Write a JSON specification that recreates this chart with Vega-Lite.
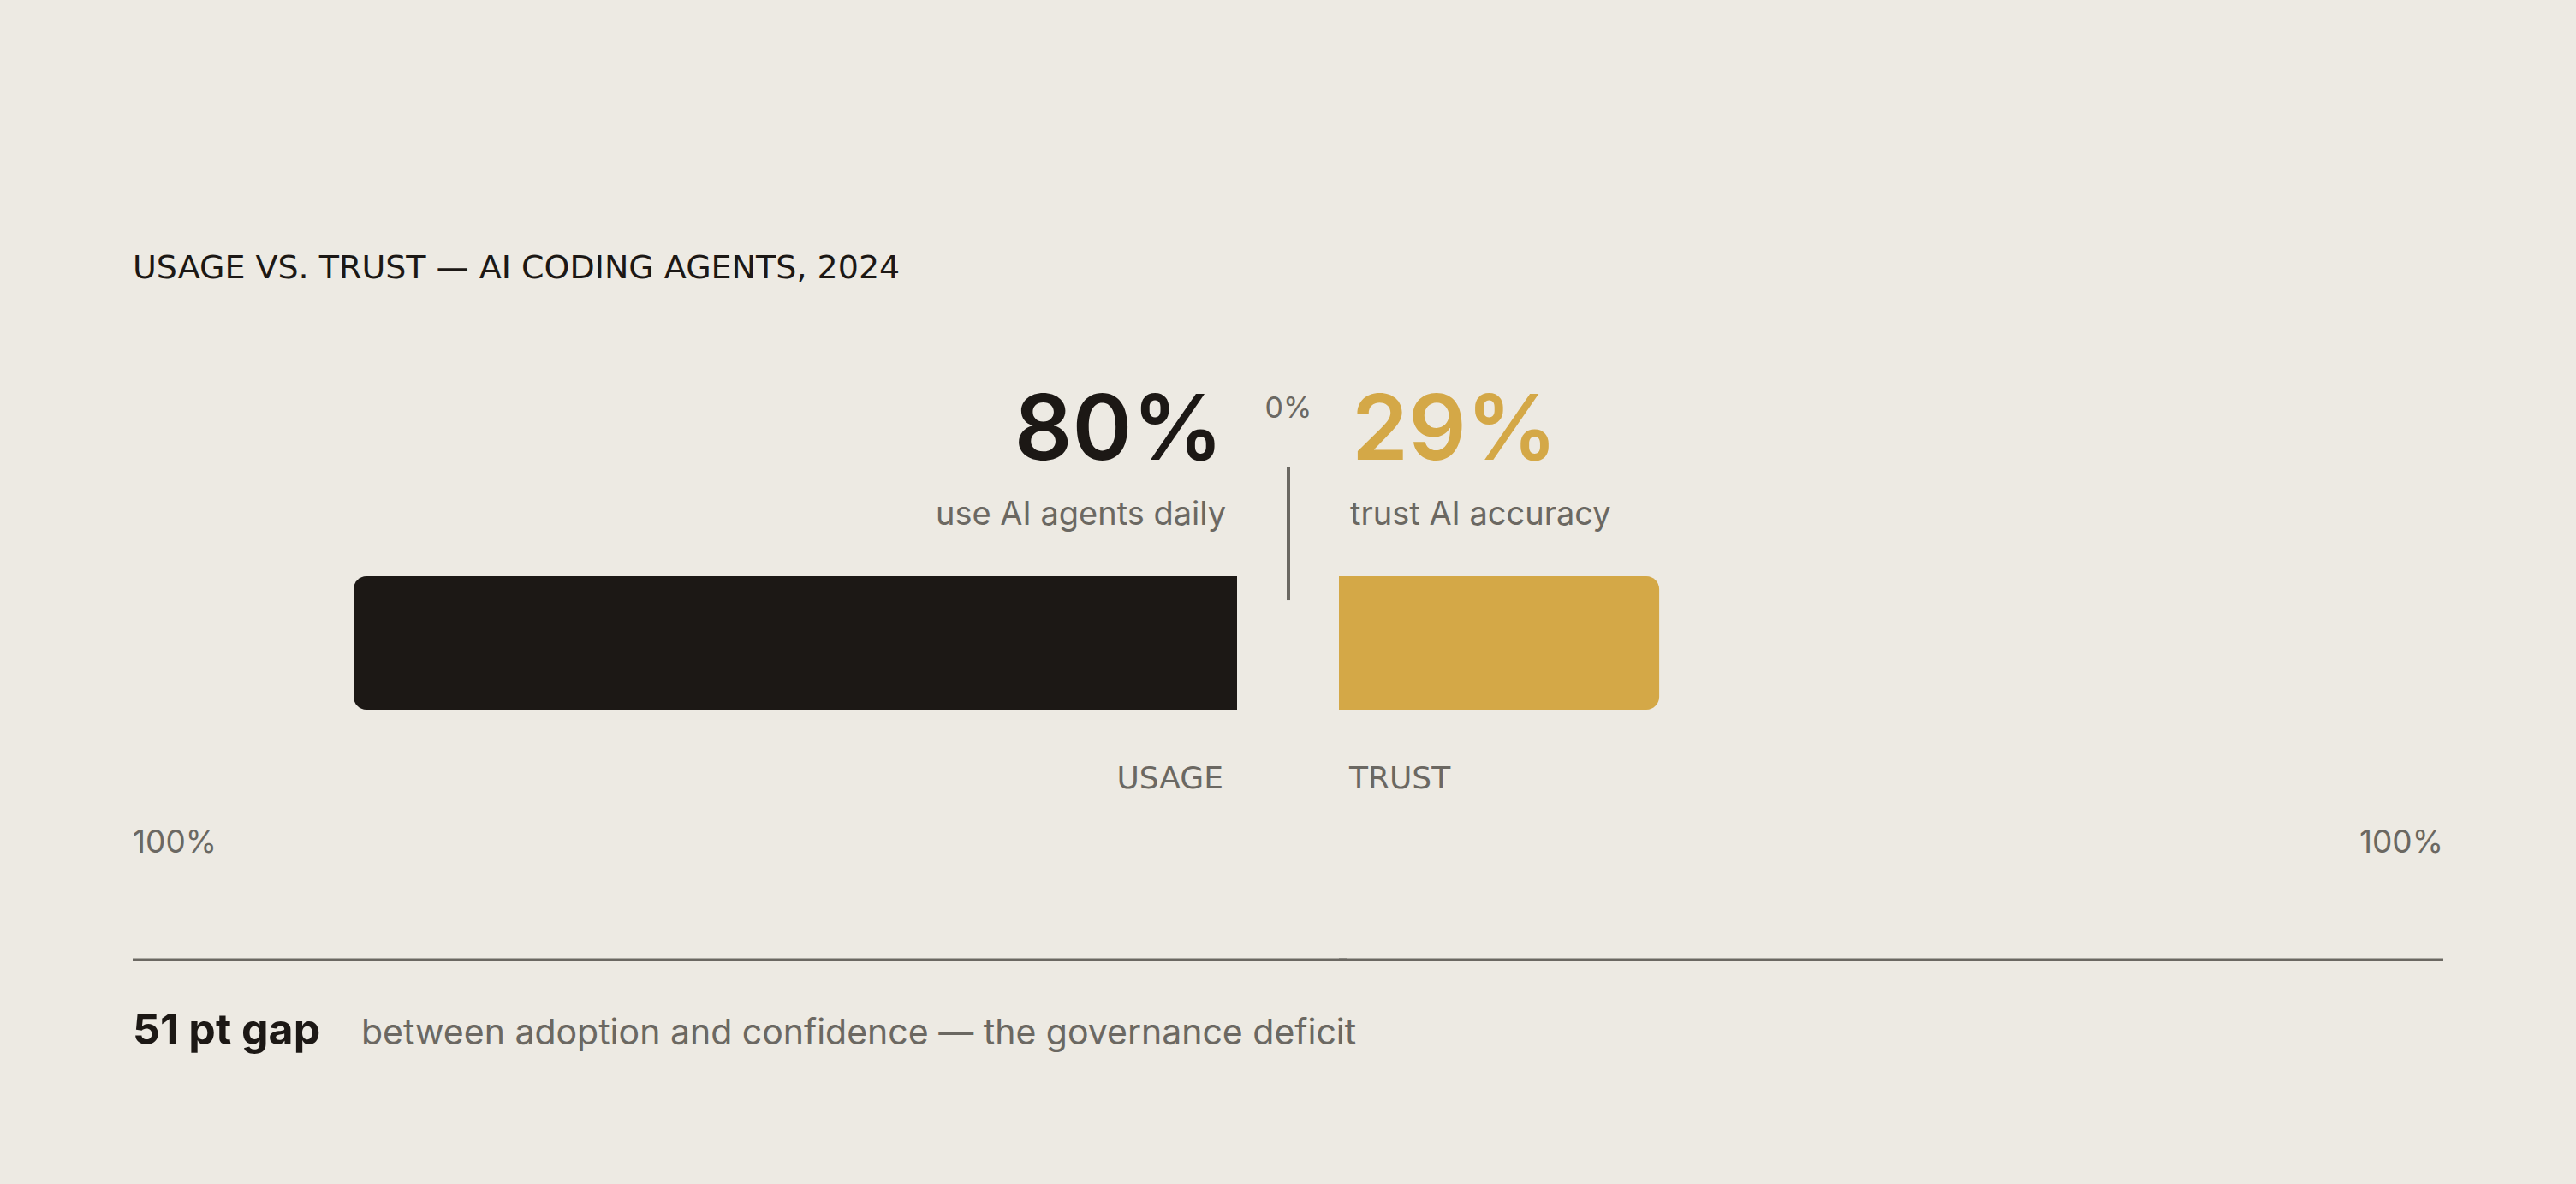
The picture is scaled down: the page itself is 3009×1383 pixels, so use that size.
{
  "$schema": "https://vega.github.io/schema/vega-lite/v6.json",
  "autosize": {"type": "fit", "contains": "padding"},
  "width": 3009,
  "height": 1383,
  "padding": 0,
  "background": "#EDEAE3",
  "config": {
    "view": {"stroke": null},
    "text": {"font": "Inter"}
  },
  "datasets": {
    "usage": [{"metric": "USAGE", "share": 0.80, "label": "use AI agents daily"}],
    "trust": [{"metric": "TRUST", "share": 0.29, "label": "trust AI accuracy"}]
  },
  "layer": [
    {
      "data": {"name": "usage"},
      "mark": {"type": "bar", "orient": "horizontal", "color": "#1C1815", "height": 156, "cornerRadiusTopLeft": 15, "cornerRadiusBottomLeft": 15},
      "encoding": {
        "x": {"field": "share", "type": "quantitative", "stack": null, "scale": {"domain": [0, 1], "range": [1445, 155]}, "axis": null},
        "y": {"datum": 54.3, "type": "quantitative", "scale": {"domain": [0, 100], "reverse": true, "nice": false, "zero": false, "padding": 0}, "axis": null}
      }
    },
    {
      "data": {"name": "trust"},
      "mark": {"type": "bar", "orient": "horizontal", "color": "#D4A847", "height": 156, "cornerRadiusTopRight": 15, "cornerRadiusBottomRight": 15},
      "encoding": {
        "x": {"field": "share", "type": "quantitative", "stack": null, "scale": {"domain": [0, 1], "range": [1564, 2854]}, "axis": null},
        "y": {"datum": 54.3, "type": "quantitative", "axis": null}
      }
    },
    {
      "data": {"name": "usage"},
      "encoding": {
        "x": {"datum": 0, "type": "quantitative", "scale": {"domain": [0, 1], "range": [1445, 155]}, "axis": null},
        "y": {"datum": 0, "type": "quantitative", "axis": null}
      },
      "layer": [
        {
          "mark": {"type": "text", "align": "right", "baseline": "alphabetic", "dx": -16, "fontSize": 106, "fontWeight": 600, "color": "#1C1815"},
          "encoding": {
            "text": {"field": "share", "type": "quantitative", "format": ".0%"},
            "y": {"datum": 38.83}
          }
        },
        {
          "mark": {"type": "text", "align": "right", "baseline": "alphabetic", "dx": -13, "fontSize": 38, "color": "#6B6862"},
          "encoding": {
            "text": {"field": "label"},
            "y": {"datum": 44.32}
          }
        },
        {
          "mark": {"type": "text", "align": "right", "baseline": "alphabetic", "dx": -16, "font": "DejaVu Sans", "fontSize": 36, "color": "#6B6862"},
          "encoding": {
            "text": {"field": "metric"},
            "y": {"datum": 66.59}
          }
        },
        {
          "mark": {"type": "text", "align": "center", "baseline": "alphabetic", "xOffset": 60, "fontSize": 34, "color": "#6B6862"},
          "encoding": {
            "text": {"datum": 0, "format": ".0%"},
            "y": {"datum": 35.29}
          }
        },
        {
          "mark": {"type": "rule", "color": "#6B6862", "strokeWidth": 4, "xOffset": 60},
          "encoding": {
            "y": {"datum": 39.48},
            "y2": {"datum": 50.69}
          }
        },
        {
          "mark": {"type": "text", "align": "left", "baseline": "alphabetic", "fontSize": 37, "color": "#6B6862"},
          "encoding": {
            "x": {"datum": 1},
            "text": {"datum": 1, "format": ".0%"},
            "y": {"datum": 72.02}
          }
        },
        {
          "mark": {"type": "rule", "color": "#6B6862", "strokeWidth": 3},
          "encoding": {
            "x": {"datum": 1},
            "x2": {"datum": -0.1},
            "y": {"datum": 81.06}
          }
        },
        {
          "mark": {"type": "text", "align": "left", "baseline": "alphabetic", "font": "DejaVu Sans", "fontSize": 38, "color": "#1C1815"},
          "encoding": {
            "x": {"datum": 1},
            "text": {"value": "USAGE VS. TRUST — AI CODING AGENTS, 2024"},
            "y": {"datum": 23.5}
          }
        },
        {
          "mark": {"type": "text", "align": "left", "baseline": "alphabetic", "fontSize": 50, "fontWeight": 700, "color": "#1C1815"},
          "encoding": {
            "x": {"datum": 1},
            "text": {"value": "51 pt gap"},
            "y": {"datum": 88.21}
          }
        },
        {
          "mark": {"type": "text", "align": "left", "baseline": "alphabetic", "dx": 267, "fontSize": 41, "color": "#6B6862"},
          "encoding": {
            "x": {"datum": 1},
            "text": {"value": "between adoption and confidence — the governance deficit"},
            "y": {"datum": 88.21}
          }
        }
      ]
    },
    {
      "data": {"name": "trust"},
      "encoding": {
        "x": {"datum": 0, "type": "quantitative", "scale": {"domain": [0, 1], "range": [1564, 2854]}, "axis": null},
        "y": {"datum": 0, "type": "quantitative", "axis": null}
      },
      "layer": [
        {
          "mark": {"type": "text", "align": "left", "baseline": "alphabetic", "dx": 15, "fontSize": 106, "fontWeight": 600, "color": "#D4A847"},
          "encoding": {
            "text": {"field": "share", "type": "quantitative", "format": ".0%"},
            "y": {"datum": 38.83}
          }
        },
        {
          "mark": {"type": "text", "align": "left", "baseline": "alphabetic", "dx": 13, "fontSize": 38, "color": "#6B6862"},
          "encoding": {
            "text": {"field": "label"},
            "y": {"datum": 44.32}
          }
        },
        {
          "mark": {"type": "text", "align": "left", "baseline": "alphabetic", "dx": 12, "font": "DejaVu Sans", "fontSize": 36, "color": "#6B6862"},
          "encoding": {
            "text": {"field": "metric"},
            "y": {"datum": 66.59}
          }
        },
        {
          "mark": {"type": "text", "align": "right", "baseline": "alphabetic", "fontSize": 37, "color": "#6B6862"},
          "encoding": {
            "x": {"datum": 1},
            "text": {"datum": 1, "format": ".0%"},
            "y": {"datum": 72.02}
          }
        },
        {
          "mark": {"type": "rule", "color": "#6B6862", "strokeWidth": 3},
          "encoding": {
            "x": {"datum": 0},
            "x2": {"datum": 1},
            "y": {"datum": 81.06}
          }
        }
      ]
    }
  ],
  "resolve": {"scale": {"x": "independent"}}
}
